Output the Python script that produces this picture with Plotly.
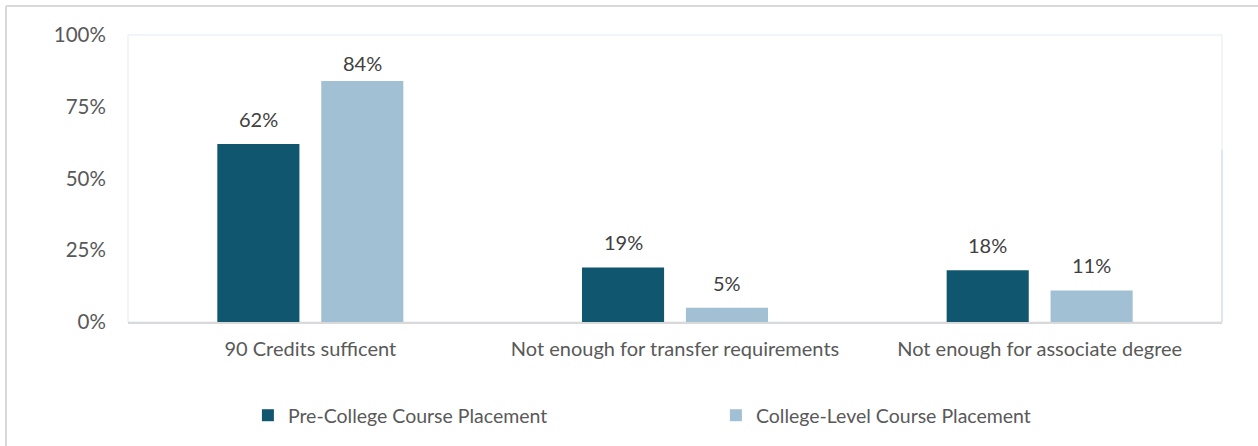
import plotly.graph_objects as go

categories = ["90 Credits sufficent", "Not enough for transfer requirements", "Not enough for associate degree"]
pre_college = [62, 19, 18]
college_level = [84, 5, 11]
series_names = ["Pre-College Course Placement", "College-Level Course Placement"]
tick_values = [0, 25, 50, 75, 100]
tick_labels = ["0%", "25%", "50%", "75%", "100%"]

DARK = "#10566F"
LIGHT = "#A2C0D4"
TEXT = "#595959"
FONT = "Lato"

PLOT_H = 446 - 35 - 124          # plotting area height in px
LABEL_GAP = 11                   # px between bar top and its value label
LABEL_CEIL = 0.855 * PLOT_H      # labels are kept below the top of the plot area

fig = go.Figure()
series = [(series_names[0], pre_college, DARK, -52), (series_names[1], college_level, LIGHT, 52)]
for name, vals, color, _ in series:
    fig.add_trace(go.Bar(
        x=categories, y=vals, name=name,
        marker=dict(color=color, line=dict(width=0)),
    ))

# value labels above each bar, offset to the bar's slot within the group
annotations = []
for name, vals, color, dx in series:
    for cat, v in zip(categories, vals):
        bar_px = v / 100 * PLOT_H
        shift = min(LABEL_GAP, LABEL_CEIL - bar_px)
        annotations.append(dict(
            x=cat, y=v, xref="x", yref="y", text=f"{v}%", showarrow=False,
            xanchor="center", yanchor="bottom", xshift=dx, yshift=shift,
            font=dict(family=FONT, size=20, color="#404040"),
        ))

fig.update_layout(
    width=1258, height=446,
    margin=dict(l=128, r=36, t=35, b=124, autoexpand=False),
    paper_bgcolor="white", plot_bgcolor="white",
    barmode="group", bargap=0.43, bargroupgap=0.21,
    font=dict(family=FONT, color=TEXT, size=19),
    showlegend=True,
    legend=dict(
        orientation="h", x=0.1096, xanchor="left", y=-0.258, yanchor="top",
        entrywidth=423, entrywidthmode="pixels",
        font=dict(family=FONT, size=19.5, color=TEXT),
        itemwidth=30,
    ),
    xaxis=dict(
        showgrid=False, showline=True, linecolor="#D9D9D9", linewidth=2,
        ticks="outside", ticklen=8, tickcolor="rgba(0,0,0,0)",
        tickfont=dict(family=FONT, size=20, color=TEXT),
        automargin=False,
    ),
    yaxis=dict(
        range=[0, 100], tickvals=tick_values, ticktext=tick_labels,
        showgrid=False, zeroline=False, showline=False,
        ticks="outside", ticklen=17, tickcolor="rgba(0,0,0,0)",
        tickfont=dict(family=FONT, size=20.5, color=TEXT),
        automargin=False,
    ),
    annotations=annotations,
    shapes=[
        # faint frame around the plotting area
        dict(type="rect", xref="paper", yref="paper", x0=0, x1=1, y0=0, y1=1,
             line=dict(color="#E3EAF4", width=1), layer="below"),
        dict(type="line", xref="paper", yref="paper", x0=1, x1=1, y0=0, y1=0.6,
             line=dict(color="#C9D7EC", width=1), layer="below"),
        # outer chart border
        dict(type="line", xref="paper", yref="paper", x0=-0.1115, x1=-0.1115, y0=1.101, y1=-0.5,
             line=dict(color="#D9D9D9", width=2)),
        dict(type="line", xref="paper", yref="paper", x0=-0.1115, x1=1.1, y0=1.101, y1=1.101,
             line=dict(color="#D9D9D9", width=2)),
    ],
)

fig.write_html("out.html")
